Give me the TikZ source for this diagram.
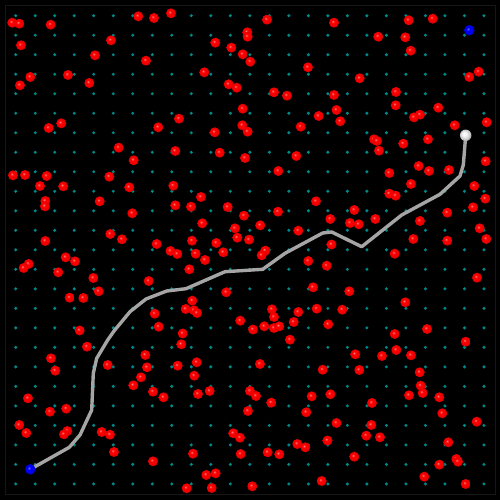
\documentclass[tikz,border=0pt]{standalone}
\begin{document}
\definecolor{gridteal}{RGB}{0,135,135}
\definecolor{pathgray}{RGB}{165,165,165}
\definecolor{framegray}{RGB}{22,22,22}
\pgfdeclareradialshading{redball}{\pgfpoint{-7bp}{7bp}}{color(0bp)=(red!45!white); color(7bp)=(red); color(20bp)=(red!93!black); color(30bp)=(red!72!black); color(50bp)=(red!72!black)}
\pgfdeclareradialshading{blueball}{\pgfpoint{-7bp}{7bp}}{color(0bp)=(blue!55!white); color(7bp)=(blue); color(20bp)=(blue!90!black); color(30bp)=(blue!70!black); color(50bp)=(blue!70!black)}
\pgfdeclareradialshading{whiteball}{\pgfpoint{-7bp}{7bp}}{color(0bp)=(white); color(9bp)=(white!96!black); color(20bp)=(white!80!black); color(30bp)=(white!60!black); color(50bp)=(white!60!black)}
\begin{tikzpicture}[x=1pt,y=-1pt,
  obstacle/.style={shading=redball},
  griddot/.style={fill=gridteal},
  route/.style={draw=pathgray,line width=3.4pt,line join=round,line cap=round},
  startball/.style={circle,minimum size=10.5pt,inner sep=0pt,shading=blueball},
  goalball/.style={circle,minimum size=11.5pt,inner sep=0pt,shading=whiteball}]
\fill[black] (0,0) rectangle (500,500);
\useasboundingbox (0,0) rectangle (500,500);
\draw[framegray,line width=0.8pt] (5,5) rectangle (495,494);
% grid
\foreach \i in {0,...,24}{
  \foreach \j in {0,...,24}{
    \fill[griddot] ({15.7+19.51*\i},{15.7+19.51*\j}) circle (1.7pt);
  }
}
% obstacles
\foreach \p in {
(12.3,22.7),(19.3,23.7),(50.7,24.7),(138.3,16.3),(154,18),(171,13.3),(21,45.3),(111,40.3),(95,55.3),(146,60.7),
(30.3,77),(20,85.3),(68,75),(89.3,83),(48.7,128),(61.3,123.3),(158.3,127.3),(118.7,147.7),(133.7,160.3),
(267,19.7),(334,22.7),(247.3,32.3),(247.7,36.7),(215.3,42.7),(231.3,47.7),(242.7,54.3),(250.3,61.7),(204.3,72.3),
(308,67.3),(228.7,84.3),(236.7,87.7),(274,92.3),(287,95.7),(334,95),(242.7,108.7),(179,118.7),(318.7,116),
(336.5,110),(300.7,126.7),(242.3,125.3),(247.7,131.7),(214.7,132.3),(175.3,151),(219.7,152.7),(245,158),
(296.3,156),(278.3,171),
(408.7,20.3),(432.7,18.7),(378.3,36.7),(405.3,37.3),(410.7,50.7),(359.7,78.3),(478.7,71.7),(469.3,77),(396,92),
(340.3,121.3),(395.7,105.3),(438.3,107.7),(420,114.7),(414,117.3),(486.7,122.3),(454.7,125.3),(374,139.3),
(377,141),(428,139.3),(403.3,143.7),(379,150.7),(485.7,161.3),(418.7,166),(429,171),(449,170),(389.3,173),
(13,175.3),(25,175),(46.7,176),(40,186),(63.3,186.3),(109.3,176.7),(129.3,187.3),(173.3,185.7),(45.3,201),
(45,206.3),(99.7,201.3),(132.3,213.3),(110.3,234),(122,239.3),(45.3,241),(156.7,244),(170.5,251),(65.7,257.3),
(75,261.3),(28.7,264),(23.7,268),(58.3,272.3),(93.3,278),(148.7,281),(98.7,291.3),(69.7,297.7),(83.3,298),
(154.7,313.7),(158.7,326.7),(79.7,330.5),
(201,197),(175.3,205.3),(191,206.7),(227.7,207),(316,201.3),(278,211.7),(244,215.7),(330.3,219),(202.3,223.3),
(260.3,225.3),(235,228.3),(298.3,230.7),(237.3,237.7),(249,239.7),(192,240.7),(216.3,243),(331.5,244.5),
(177.3,254),(195.7,253.7),(223.3,252.3),(265.3,250.7),(261.7,255.3),(205,260),(308.3,261),(326.7,265.7),
(189.3,269.3),(313,287.3),(226.3,292.3),(192.3,300.7),(316.7,308.7),(185.7,309),(194,310.3),(197,313),
(272,309.3),(274,317),(298.3,312),(240.3,320.7),(293.7,322),(328.3,324.3),(253,329.5),(264.3,326.3),(274,328),
(279.3,326.3),(182.7,333.5),
(411,184),(389.3,193.7),(395.7,195.7),(474.3,186),(485.3,198.7),(354.3,210),(375.3,219),(350,223),(358.7,224.3),
(420,221),(447.3,212.7),(473,207.3),(479.7,228.3),(486.3,239),(413.3,239),(447.3,240.7),(394.7,253.7),
(477,277.7),(349.3,291.3),(405.3,302.3),(342.3,309.7),(394.7,334),(427,329),
(87,346.7),(51,358.3),(55.3,370.7),(107.7,365),(145.3,355),(147,367.3),(141,377.3),(133.3,385.3),(153,391.7),
(163.5,397.3),(28,398.3),(50,411.7),(66.3,408.7),(19.3,425),(26.3,433),(67.3,431),(64,434.3),(101.7,432),
(110,434.7),(114,452),(153,461.3),
(181.3,344.3),(290,339.7),(177.7,365.7),(196.7,362.3),(194.3,375.7),(260,364),(322.7,369.7),(198,394),
(209.7,391),(250,391),(256,396),(271.3,402.7),(311.7,396.3),(330.5,394.3),(248,411),(306.3,412.3),(336.5,423),
(233.3,433.3),(240,437.7),(327.5,440.5),(297.3,444),(305.3,447.3),(193,453.7),(240.7,454),(267.7,452.3),
(279.3,454.3),(206.3,475),(215.7,473.3),(321.7,481),(186.7,488.3),(211.7,488),(252.3,486.3),
(465.7,341.7),(355.3,354.3),(382,356),(396.3,350),(411,355.3),(359.3,370),(419.7,372.3),(420.7,385.7),
(422.7,393),(409,395.3),(439.3,397.3),(372,403),(442.3,413.3),(476.7,421.7),(371.3,425),(366.3,435.7),
(380,437.3),(448.3,442.3),(354.3,456.7),(456.3,459),(458,461.7),(439.3,464.7),(424.3,476.7),(465.7,484)}{
  \shade[obstacle] \p circle (5pt);
}
% start, goal, and the found route
\coordinate (start) at (30.3,469.3);
\coordinate (goal) at (465.7,135.3);
\draw[route] (start) -- (69.3,447.3) -- (80,435) -- (91.7,410) -- (93.3,373.3) -- (96.7,358.3)
  -- (107.7,340) -- (114,331) -- (130,311.7) -- (146,299) -- (166.7,291) -- (186,288.7) -- (225,271.7)
  -- (262.7,269.3) -- (285,253.3) -- (322.7,233) -- (331.7,232) -- (361.7,246.7) -- (401.7,215)
  -- (440,194.3) -- (460,176) -- (463.3,165) -- (goal);
\node[startball] (s) at (start) {};
\node[goalball] (g) at (goal) {};
\node[startball] (b2) at (469.3,30.3) {};
\end{tikzpicture}
\end{document}
